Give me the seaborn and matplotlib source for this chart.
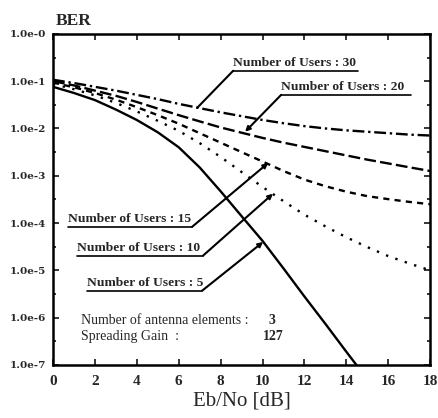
import numpy as np
import pandas as pd
import matplotlib
matplotlib.use('Agg')
import matplotlib.pyplot as plt
from matplotlib.ticker import FixedLocator
import seaborn as sns

# Eb/No axis (dB)
ebno = [0, 1, 2, 3, 4, 5, 6, 7, 8, 9, 10, 11, 12, 13, 14, 15, 16, 17, 18]

# BER, one list per number of users
ber_30 = [0.107, 0.0912, 0.0759, 0.0631, 0.0513, 0.0417, 0.0331, 0.0269, 0.0219, 0.0182,
          0.0151, 0.0129, 0.0112, 0.0100, 0.00912, 0.00851, 0.00794, 0.00741, 0.00708]
ber_20 = [0.100, 0.0813, 0.0631, 0.0490, 0.0363, 0.0263, 0.0191, 0.0141, 0.0105, 0.00813,
          0.00631, 0.00501, 0.00407, 0.00331, 0.00269, 0.00219, 0.00182, 0.00151, 0.00126]
ber_15 = [0.0933, 0.0741, 0.0562, 0.0407, 0.0282, 0.0191, 0.0126, 0.00794, 0.00501, 0.00316,
          0.00200, 0.00126, 0.00083, 0.00060, 0.00046, 0.00037, 0.00032, 0.00028, 0.00025]
ber_10 = [0.0871, 0.0676, 0.0501, 0.0347, 0.0229, 0.0145, 0.0089, 0.0049, 0.0025, 0.0012,
          5.8e-4, 2.9e-4, 1.5e-4, 8.5e-5, 5.0e-5, 3.1e-5, 2.0e-5, 1.4e-5, 1.0e-5]
ber_5 = [0.0759, 0.0562, 0.0398, 0.0251, 0.0151, 0.0083, 0.0040, 0.0015, 4.7e-4, 1.4e-4,
         4.2e-5, 1.1e-5, 2.8e-6, 7.4e-7, 1.9e-7, 5.0e-8]

users = [30, 20, 15, 10, 5]
curves = [ber_30, ber_20, ber_15, ber_10, ber_5]

ytick_vals = [1, 1e-1, 1e-2, 1e-3, 1e-4, 1e-5, 1e-6, 1e-7]
ytick_labels = ['1.0e-0', '1.0e-1', '1.0e-2', '1.0e-3', '1.0e-4', '1.0e-5', '1.0e-6', '1.0e-7']
xtick_vals = [0, 2, 4, 6, 8, 10, 12, 14, 16, 18]

rows = []
for u, c in zip(users, curves):
    for x, b in zip(ebno, c):
        rows.append({'ebno': x, 'ber': b, 'users': str(u)})
df = pd.DataFrame(rows)

sns.set_style('ticks')
plt.rcParams['font.family'] = ['Liberation Serif', 'DejaVu Serif']

fig = plt.figure(figsize=(4.38, 4.18), dpi=100)
ax = fig.add_axes([0.121, 0.127, 0.861, 0.792])

dashes = {'30': (5, 1.6, 1, 1.6), '20': (5, 1.8), '15': (2.6, 2.2),
          '10': (1, 3.2), '5': ''}
sns.lineplot(data=df, x='ebno', y='ber', style='users', dashes=dashes,
             color='black', linewidth=1.7, legend=False, ax=ax)

ax.set_yscale('log')
ax.set_xlim(0, 18)
ax.set_ylim(1e-7, 1)
ax.yaxis.set_major_locator(FixedLocator(ytick_vals))
ax.set_yticklabels(ytick_labels, fontsize=7.5, fontweight='bold', family='DejaVu Serif')
ax.yaxis.set_minor_locator(FixedLocator([10 ** (-k - 0.5) for k in range(7)]))
ax.set_xticks(xtick_vals)
ax.set_xticklabels([str(v) for v in xtick_vals], fontsize=11, fontweight='bold')
ax.tick_params(which='both', direction='in', top=True, right=True, width=1.3)
ax.tick_params(which='major', length=4)
ax.tick_params(axis='y', which='major', pad=5)
ax.tick_params(axis='x', which='major', pad=7)
ax.tick_params(which='minor', length=2.5)
for s in ax.spines.values():
    s.set_linewidth(1.8)
    s.set_color('black')

ax.set_xlabel('Eb/No [dB]', fontsize=15, labelpad=3)
ax.set_ylabel('')
fig.text(0.128, 0.93, 'BER', fontsize=12.5, fontweight='bold', ha='left', va='bottom')

# labels with underline and leader line: (text, x0, x1, y, target, arrowhead)
notes = [
    ('Number of Users : 30', 8.6, 14.57, 10 ** -0.78, (6.88, 10 ** -1.565), False),
    ('Number of Users : 20', 10.89, 17.1, 10 ** -1.29, (9.17, 10 ** -2.07), True),
    ('Number of Users : 15', 0.72, 6.64, 10 ** -4.08, (10.27, 10 ** -2.73), True),
    ('Number of Users : 10', 1.15, 7.16, 10 ** -4.69, (10.5, 10 ** -3.38), True),
    ('Number of Users : 5', 1.62, 7.12, 10 ** -5.43, (10.03, 10 ** -4.4), True),
]
for text, x0, x1, y, target, arrow in notes:
    ax.annotate(text, xy=(x0, y), xytext=(0, 1.0), textcoords='offset points',
                ha='left', va='bottom', fontsize=9.7, fontweight='bold')
    ax.plot([x0, x1], [y, y], color='black', lw=1.2)
    start = (x0, y) if target[0] < x0 else (x1, y)
    ax.annotate('', xy=target, xytext=start,
                arrowprops=dict(arrowstyle='-|>' if arrow else '-', color='black',
                                lw=1.5, mutation_scale=7, shrinkA=0, shrinkB=0))

ax.text(1.35, 10 ** -6.13, 'Number of antenna elements :', fontsize=10, va='baseline')
ax.text(10.3, 10 ** -6.13, '3', fontsize=10, va='baseline', fontweight='bold')
ax.text(1.35, 10 ** -6.47, 'Spreading Gain  :', fontsize=10, va='baseline')
ax.text(10.03, 10 ** -6.47, '127', fontsize=10, va='baseline', fontweight='bold')

fig.savefig('out.png', dpi=100)
